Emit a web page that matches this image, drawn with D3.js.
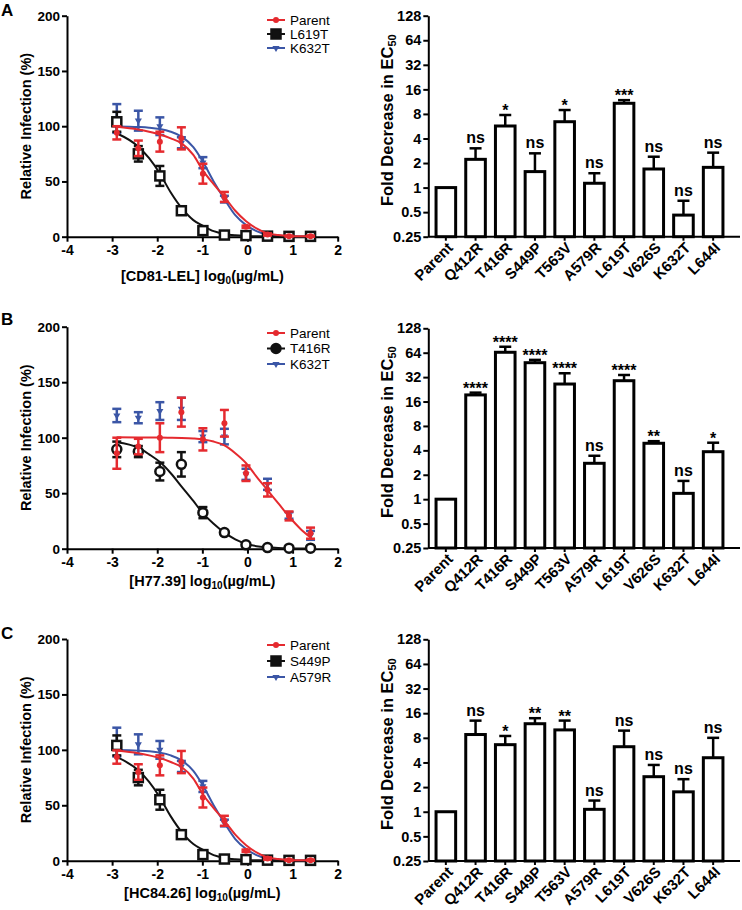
<!DOCTYPE html>
<html>
<head>
<meta charset="utf-8">
<script src="https://cdn.jsdelivr.net/npm/d3@7"></script>
<style>
  body { margin: 0; background: #fff; }
  svg text { font-family: "Liberation Sans", Arial, sans-serif; fill: #000; }
</style>
</head>
<body>
<div id="chart"></div>
<script>
// dose points (log10 ug/mL), 3-fold dilutions
const doseX = [-2.896, -2.419, -1.942, -1.465, -0.988, -0.511, -0.033, 0.444, 0.921, 1.398];
// x positions where fitted curves were read
const curveX = [-2.9, -2.42, -2.18, -1.94, -1.7, -1.46, -1.2, -0.99, -0.75, -0.51, -0.27, -0.03, 0.2, 0.44, 0.68, 0.92, 1.16, 1.4];
const doseTicks = [-4, -3, -2, -1, 0, 1, 2];
const infTicks = [0, 50, 100, 150, 200];

// panel A : CD81-LEL
const aParentMean = [94, 80, 86, 89, 57, 36, 9, 2, 0.5, 0.5];
const aParentErr = [6, 7, 9, 10, 9, 4.5, 1, 1, 0.5, 0.5];
const aParentCurve = [99.5, 97, 95, 92.5, 89, 84.5, 74, 60, 47.5, 36, 23.5, 14, 7.5, 3, 1.5, 0.7, 0.4, 0.3];
const aL619TMean = [104, 75, 55, 23.5, 5.5, 1.5, 1, 0.5, 0.3, 0.3];
const aL619TErr = [9, 7, 9, 2, 1, 0.5, 0.5, 0.3, 0.2, 0.2];
const aL619TCurve = [93.6, 81.5, 71, 57, 40, 26, 15, 10, 5, 2.5, 1.3, 0.7, 0.4, 0.2, 0.1, 0.1, 0, 0];
const aK632TMean = [107, 105, 100, 85, 67, 34, 3, 1, 0.5, 0.3];
const aK632TErr = [13, 9, 8, 5, 5, 3, 1, 0.5, 0.3, 0.2];
const aK632TCurve = [99.8, 99.3, 98.7, 97.5, 95, 90.5, 81, 68, 50, 34, 19.5, 10.5, 5, 2, 1, 0.4, 0.2, 0.1];

// panel B : H77.39
const bParentMean = [86, 92, 100, 123, 98.5, 113, 68, 53, 29.5, 14];
const bParentErr = [14, 7, 13, 13, 10, 12, 7, 6, 4, 5];
const bParentCurve = [100.3, 100.2, 100.2, 100.1, 100, 99.8, 99.3, 98.5, 96.5, 93, 86, 77, 65, 53, 41, 29, 18.5, 10];
const bT416RMean = [89.5, 87.5, 69.5, 76, 32.5, 14.5, 3.5, 1, 0.5, 0.5];
const bT416RErr = [7, 5, 8, 11, 5, 2, 1, 0.5, 0.3, 0.3];
const bT416RCurve = [96, 91, 85, 78, 68, 56, 43, 32, 22.5, 14.5, 8.5, 4.5, 2.3, 1.2, 0.6, 0.3, 0.2, 0.1];
const bK632TMean = [120, 118, 124, 126, 101, 101, 67, 58, 30, 12];
const bK632TErr = [6, 5, 8, 10, 5, 7, 5, 5, 3, 4];

// panel C : HC84.26
const cParentMean = [93.5, 80, 86, 89, 57, 36, 9, 2, 0.5, 0.5];
const cParentErr = [6, 7, 9, 10, 9, 4.5, 1, 1, 0.5, 0.5];
const cParentCurve = [99.5, 97, 95, 92.5, 89, 84.5, 74, 60, 47.5, 36, 23.5, 14, 7.5, 3, 1.5, 0.7, 0.4, 0.3];
const cS449PMean = [104, 75, 55, 23.5, 5.5, 1.5, 1, 0.5, 0.3, 0.3];
const cS449PErr = [9, 7, 9, 2, 1, 0.5, 0.5, 0.3, 0.2, 0.2];
const cS449PCurve = [93.6, 81.5, 71, 57, 40, 26, 15, 10, 5, 2.5, 1.3, 0.7, 0.4, 0.2, 0.1, 0.1, 0, 0];
const cA579RMean = [107, 105, 100, 85, 67, 34, 3, 1, 0.5, 0.3];
const cA579RErr = [13, 9, 8, 5, 5, 3, 1, 0.5, 0.3, 0.2];
const cA579RCurve = [99.8, 99.3, 98.7, 97.5, 95, 90.5, 81, 68, 50, 34, 19.5, 10.5, 5, 2, 1, 0.4, 0.2, 0.1];

// bar charts: fold decrease in EC50
const mutants = ["Parent", "Q412R", "T416R", "S449P", "T563V", "A579R", "L619T", "V626S", "K632T", "L644I"];
const foldTicks = [0.25, 0.5, 1, 2, 4, 8, 16, 32, 64, 128];
const aFold = [1, 2.22, 5.69, 1.57, 6.42, 1.13, 10.8, 1.69, 0.46, 1.77];
const aFoldErr = [0, 0.81, 2.07, 1.06, 2.51, 0.37, 1.0, 0.7, 0.23, 0.91];
const aSig = ["", "ns", "*", "ns", "*", "ns", "***", "ns", "ns", "ns"];
const bFold = [1, 19.3, 64.8, 48.2, 26.3, 2.77, 28.9, 4.89, 1.18, 3.85];
const bFoldErr = [0, 1.3, 11, 4, 9.4, 0.66, 5.1, 0.3, 0.5, 1.12];
const bSig = ["", "****", "****", "****", "****", "ns", "****", "**", "ns", "*"];
const cFold = [1, 8.78, 6.6, 11.9, 10, 1.07, 6.23, 2.68, 1.75, 4.57];
const cFoldErr = [0, 4.2, 1.83, 2.0, 3.0, 0.3, 3.57, 1.05, 0.75, 3.43];
const cSig = ["", "ns", "*", "**", "**", "ns", "ns", "ns", "ns", "ns"];

const RED = "#e52a2f", BLUE = "#3b56a6", BLACK = "#111";

const panels = [
  {
    letter: "A", letterY: 16, top: 15.7, bottom: 236.7,
    xLabel: ["[CD81-LEL] log", "0", "(µg/mL)"], xLabelY: 281,
    legendY: [20, 34, 48],
    series: [
      { name: "Parent", color: RED, mark: "dot", mean: aParentMean, err: aParentErr, curve: aParentCurve },
      { name: "L619T", color: BLACK, mark: "square", mean: aL619TMean, err: aL619TErr, curve: aL619TCurve },
      { name: "K632T", color: BLUE, mark: "tri", mean: aK632TMean, err: aK632TErr, curve: aK632TCurve }
    ],
    bTop: 15.7, bBottom: 236.7, fold: aFold, foldErr: aFoldErr, sig: aSig
  },
  {
    letter: "B", letterY: 325, top: 326.7, bottom: 548.7,
    xLabel: ["[H77.39] log", "10", "(µg/mL)"], xLabelY: 586,
    legendY: [333, 348.5, 364],
    series: [
      { name: "Parent", color: RED, mark: "dot", mean: bParentMean, err: bParentErr, curve: bParentCurve },
      { name: "T416R", color: BLACK, mark: "circle", mean: bT416RMean, err: bT416RErr, curve: bT416RCurve },
      { name: "K632T", color: BLUE, mark: "tri", mean: bK632TMean, err: bK632TErr, curve: null }
    ],
    bTop: 328.3, bBottom: 548, fold: bFold, foldErr: bFoldErr, sig: bSig
  },
  {
    letter: "C", letterY: 639, top: 639, bottom: 860.7,
    xLabel: ["[HC84.26] log", "10", "(µg/mL)"], xLabelY: 898,
    legendY: [645, 661, 677],
    series: [
      { name: "Parent", color: RED, mark: "dot", mean: cParentMean, err: cParentErr, curve: cParentCurve },
      { name: "S449P", color: BLACK, mark: "square", mean: cS449PMean, err: cS449PErr, curve: cS449PCurve },
      { name: "A579R", color: BLUE, mark: "tri", mean: cA579RMean, err: cA579RErr, curve: cA579RCurve }
    ],
    bTop: 639.3, bBottom: 861, fold: cFold, foldErr: cFoldErr, sig: cSig
  }
];

const svg = d3.select("#chart").append("svg")
  .attr("width", 742).attr("height", 910)
  .style("background", "#fff");

const xDose = d3.scaleLinear().domain([-4, 2]).range([67, 337.7]);

function styleAxis(sel, size) {
  sel.selectAll("path, line").attr("stroke", "#000").attr("stroke-width", 2);
  sel.selectAll("text").attr("font-size", size).attr("font-weight", "bold");
}

function marker(g, s, x, y, legend) {
  if (s.mark === "dot") {
    g.append("circle").attr("cx", x).attr("cy", y).attr("r", 3).attr("fill", s.color);
  } else if (s.mark === "square") {
    g.append("rect").attr("x", x - 4.5).attr("y", y - 4.5).attr("width", 9).attr("height", 9)
      .attr("fill", legend ? BLACK : "#fff").attr("stroke", BLACK).attr("stroke-width", 2.5);
  } else if (s.mark === "circle") {
    g.append("circle").attr("cx", x).attr("cy", y).attr("r", 4.5)
      .attr("fill", legend ? BLACK : "#fff").attr("stroke", BLACK).attr("stroke-width", 2.5);
  } else {
    g.append("path").attr("d", d3.symbol(d3.symbolTriangle, 22)())
      .attr("transform", `translate(${x},${y}) rotate(180)`).attr("fill", s.color);
  }
}

function drawDose(p) {
  const y = d3.scaleLinear().domain([0, 200]).range([p.bottom, p.top]);
  const g = svg.append("g");

  const xa = g.append("g").attr("transform", `translate(0,${p.bottom})`)
    .call(d3.axisBottom(xDose).tickValues(doseTicks).tickSize(5).tickSizeOuter(0).tickPadding(3).tickFormat(d => String(d)));
  styleAxis(xa, 14);
  const ya = g.append("g").attr("transform", `translate(${xDose.range()[0]},0)`)
    .call(d3.axisLeft(y).tickValues(infTicks).tickSize(5).tickSizeOuter(0).tickPadding(2));
  styleAxis(ya, 13.5);

  // axis titles
  const mid = (p.top + p.bottom) / 2;
  g.append("text").attr("transform", `translate(31,${mid}) rotate(-90)`)
    .attr("text-anchor", "middle").attr("font-size", 14.5).attr("font-weight", "bold")
    .text("Relative Infection (%)");
  const xt = g.append("text").attr("x", (xDose.range()[0] + xDose.range()[1]) / 2).attr("y", p.xLabelY)
    .attr("text-anchor", "middle").attr("font-size", 14.5).attr("font-weight", "bold");
  xt.append("tspan").text(p.xLabel[0]);
  xt.append("tspan").attr("font-size", 10).attr("dy", 3).text(p.xLabel[1]);
  xt.append("tspan").attr("dy", -3).text(p.xLabel[2]);

  // panel letter
  g.append("text").attr("x", 1).attr("y", p.letterY).attr("font-size", 17).attr("font-weight", "bold").text(p.letter);

  // series: blue first, then black, red on top
  const line = d3.line().x(d => xDose(d[0])).y(d => y(d[1])).curve(d3.curveMonotoneX);
  [2, 1, 0].forEach(k => {
    const s = p.series[k];
    const sg = g.append("g");
    if (s.curve) {
      sg.append("path").datum(d3.zip(curveX, s.curve)).attr("d", line)
        .attr("fill", "none").attr("stroke", s.color).attr("stroke-width", 2);
    }
    doseX.forEach((x, i) => {
      const cx = xDose(x);
      const y0 = y(Math.max(0, s.mean[i] - s.err[i]));
      const y1 = y(s.mean[i] + s.err[i]);
      sg.append("line").attr("x1", cx).attr("x2", cx).attr("y1", y0).attr("y2", y1)
        .attr("stroke", s.color).attr("stroke-width", 2.5);
      [y0, y1].forEach(yy => sg.append("line").attr("x1", cx - 4.5).attr("x2", cx + 4.5)
        .attr("y1", yy).attr("y2", yy).attr("stroke", s.color).attr("stroke-width", 2.5));
      marker(sg, s, cx, y(s.mean[i]), false);
    });
  });

  // legend
  const lx = 267;
  p.series.forEach((s, i) => {
    const ly = p.legendY[i];
    g.append("line").attr("x1", lx).attr("x2", lx + 18).attr("y1", ly).attr("y2", ly)
      .attr("stroke", s.color).attr("stroke-width", 2);
    marker(g, s, lx + 9, ly, true);
    g.append("text").attr("x", lx + 23).attr("y", ly).attr("dy", "0.36em")
      .attr("font-size", 13.5).text(s.name);
  });
}

function drawBars(p) {
  const y = d3.scaleLog().base(2).domain([0.25, 128]).range([p.bBottom, p.bTop]);
  const x = d3.scaleBand().domain(mutants).range([431, 728]).paddingInner(0.34).paddingOuter(0.17);
  const g = svg.append("g");
  const axX = 428.3;

  const ya = g.append("g").attr("transform", `translate(${axX},0)`)
    .call(d3.axisLeft(y).tickValues(foldTicks).tickSize(5).tickSizeOuter(0).tickPadding(2).tickFormat(d => String(d)));
  styleAxis(ya, 14.5);

  const xa = g.append("g").attr("transform", `translate(0,${p.bBottom})`)
    .call(d3.axisBottom(x).tickSize(4).tickSizeOuter(0));
  styleAxis(xa, 15);
  xa.select(".domain").attr("d", `M${axX},0H740`);
  xa.selectAll("text").attr("y", 0).attr("dy", null).attr("text-anchor", "end")
    .attr("transform", "translate(8,12) rotate(-45)");

  // y title
  const mid = (p.bTop + p.bBottom) / 2;
  const yt = g.append("text").attr("transform", `translate(393,${mid - 6}) rotate(-90)`)
    .attr("text-anchor", "middle").attr("font-size", 16.5).attr("font-weight", "bold");
  yt.append("tspan").text("Fold Decrease in EC");
  yt.append("tspan").attr("font-size", 11).attr("dy", 3).text("50");

  mutants.forEach((m, i) => {
    const bx = x(m), bw = x.bandwidth(), cx = bx + bw / 2;
    const top = y(p.fold[i]);
    if (p.foldErr[i] > 0) {
      const et = y(p.fold[i] + p.foldErr[i]);
      g.append("line").attr("x1", cx).attr("x2", cx).attr("y1", top).attr("y2", et)
        .attr("stroke", "#000").attr("stroke-width", 2.5);
      g.append("line").attr("x1", cx - 6).attr("x2", cx + 6).attr("y1", et).attr("y2", et)
        .attr("stroke", "#000").attr("stroke-width", 2.5);
    }
    g.append("rect").attr("x", bx).attr("y", top).attr("width", bw).attr("height", p.bBottom - top)
      .attr("fill", "#fff").attr("stroke", "#000").attr("stroke-width", 3);
    if (p.sig[i]) {
      const capY = y(p.fold[i] + p.foldErr[i]);
      const star = p.sig[i].startsWith("*");
      g.append("text").attr("x", cx).attr("y", star ? capY + 1 : capY - 5)
        .attr("text-anchor", "middle").attr("font-size", star ? 16 : 16)
        .attr("font-weight", "bold").text(p.sig[i]);
    }
  });
}

panels.forEach(p => { drawDose(p); drawBars(p); });
</script>
</body>
</html>
